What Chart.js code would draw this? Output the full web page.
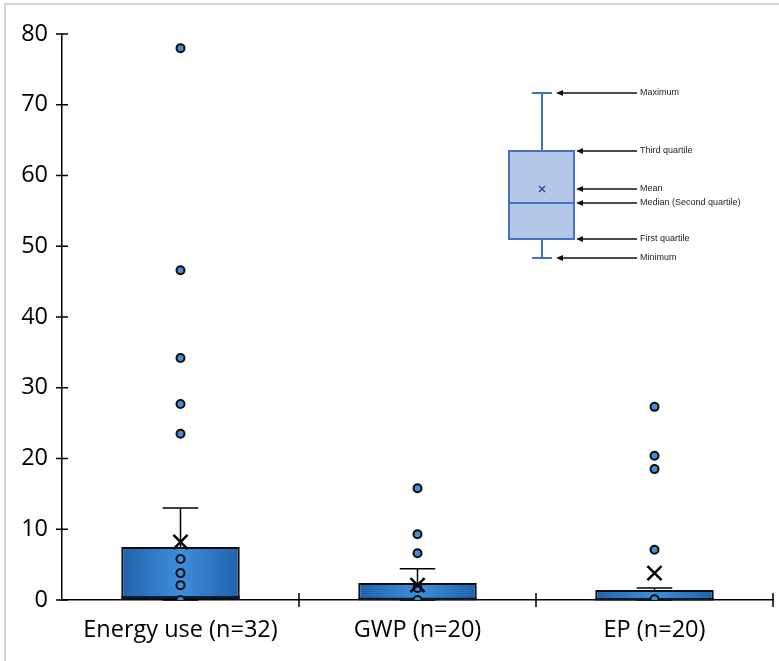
<!DOCTYPE html>
<html>
<head>
<meta charset="utf-8">
<title>Box plots</title>
<script src="https://cdn.jsdelivr.net/npm/chart.js@4.4.1/dist/chart.umd.min.js"></script>
<style>
  html, body { margin: 0; padding: 0; background: #fff; }
  #wrap { position: relative; width: 779px; height: 661px; }
</style>
</head>
<body>
<div id="wrap"><canvas id="boxChart"></canvas></div>
<script>
// categories and box statistics
const categories = ['Energy use (n=32)', 'GWP (n=20)', 'EP (n=20)'];
const q1 = [0, 0, 0];
const q3 = [7.5, 2.4, 1.4];
const medians = [0.4, 0.15, 0.1];
const whiskerLow = [0, 0, 0];
const whiskerHigh = [13.0, 4.4, 1.7];
const means = [8.2, 2.1, 3.8];

// individual points shown per category
const energyPoints = [78.0, 46.6, 34.2, 27.7, 23.5, 5.8, 3.8, 2.1, 0];
const gwpPoints = [15.8, 9.3, 6.6, 1.7, 0];
const epPoints = [27.3, 20.4, 18.5, 7.1, 0.1];

const yTicks = [0, 10, 20, 30, 40, 50, 60, 70, 80];

const pointSets = [energyPoints, gwpPoints, epPoints];
const pointData = [];
pointSets.forEach((vals, i) => vals.forEach(v => pointData.push({ x: categories[i], y: v })));
const meanData = means.map((m, i) => ({ x: categories[i], y: m }));

const FONT = '"Open Sans", "Liberation Sans", sans-serif';

function boxGradient(context) {
  const chart = context.chart;
  if (!chart.chartArea) return '#2f77c2';
  const xs = chart.scales.x;
  const cx = xs.getPixelForValue(context.dataIndex);
  const half = xs.width / categories.length * 0.25;
  const g = chart.ctx.createLinearGradient(cx - half, 0, cx + half, 0);
  g.addColorStop(0, '#2062ab');
  g.addColorStop(0.5, '#3f8edb');
  g.addColorStop(1, '#2062ab');
  return g;
}

// whiskers, caps and median lines on top of the boxes
const whiskerPlugin = {
  id: 'whiskers',
  afterDatasetDraw(chart, args) {
    if (args.index !== 0) return;
    const { ctx, scales: { x, y } } = chart;
    const step = x.width / categories.length;
    ctx.save();
    ctx.strokeStyle = '#000';
    categories.forEach((c, i) => {
      const cx = x.getPixelForValue(i);
      const capHalf = step * 0.075;
      const boxHalf = step * 0.25;
      ctx.lineWidth = 1.5;
      ctx.beginPath();
      ctx.moveTo(cx, y.getPixelForValue(q3[i]));
      ctx.lineTo(cx, y.getPixelForValue(whiskerHigh[i]));
      ctx.moveTo(cx - capHalf, y.getPixelForValue(whiskerHigh[i]));
      ctx.lineTo(cx + capHalf, y.getPixelForValue(whiskerHigh[i]));
      ctx.moveTo(cx - capHalf, y.getPixelForValue(whiskerLow[i]));
      ctx.lineTo(cx + capHalf, y.getPixelForValue(whiskerLow[i]));
      ctx.stroke();
      ctx.lineWidth = 2.5;
      ctx.strokeStyle = '#0b1a2b';
      ctx.beginPath();
      ctx.moveTo(cx - boxHalf, y.getPixelForValue(medians[i]));
      ctx.lineTo(cx + boxHalf, y.getPixelForValue(medians[i]));
      ctx.stroke();
      ctx.strokeStyle = '#000';
    });
    ctx.restore();
  }
};

// tick marks crossing both axes, page frame and the explanatory key
const decorPlugin = {
  id: 'decor',
  beforeDraw(chart) {
    const ctx = chart.ctx;
    ctx.save();
    ctx.strokeStyle = '#d4d4d4';
    ctx.lineWidth = 2;
    ctx.beginPath();
    ctx.moveTo(5, 661);
    ctx.lineTo(5, 4);
    ctx.lineTo(779, 4);
    ctx.stroke();
    ctx.restore();
  },
  afterDraw(chart) {
    const { ctx, chartArea: a, scales: { x, y } } = chart;
    ctx.save();
    ctx.strokeStyle = '#000';
    ctx.lineWidth = 1.5;
    ctx.beginPath();
    yTicks.forEach(t => {
      const py = y.getPixelForValue(t);
      ctx.moveTo(a.left - 6, py);
      ctx.lineTo(a.left + 6, py);
    });
    const step = x.width / categories.length;
    for (let i = 1; i <= categories.length; i++) {
      const px = a.left + step * i;
      ctx.moveTo(px, a.bottom - 7);
      ctx.lineTo(px, a.bottom + 7);
    }
    ctx.stroke();
    ctx.restore();
    drawKey(ctx);
  }
};

function arrow(ctx, fromX, toX, yy) {
  ctx.beginPath();
  ctx.moveTo(fromX, yy);
  ctx.lineTo(toX + 5, yy);
  ctx.stroke();
  ctx.beginPath();
  ctx.moveTo(toX, yy);
  ctx.lineTo(toX + 7, yy - 3);
  ctx.lineTo(toX + 7, yy + 3);
  ctx.closePath();
  ctx.fill();
}

function drawKey(ctx) {
  const cx = 542, left = 509, right = 574;
  const yMax = 93, yQ3 = 151, yMean = 189, yMed = 203, yQ1 = 239, yMin = 258;
  ctx.save();
  ctx.fillStyle = '#b4c7e7';
  ctx.fillRect(left, yQ3, right - left, yQ1 - yQ3);
  ctx.strokeStyle = '#4472c4';
  ctx.lineWidth = 2;
  ctx.strokeRect(left, yQ3, right - left, yQ1 - yQ3);
  ctx.beginPath();
  ctx.moveTo(left, yMed); ctx.lineTo(right, yMed);
  ctx.moveTo(cx, yQ3); ctx.lineTo(cx, yMax);
  ctx.moveTo(cx - 10, yMax); ctx.lineTo(cx + 10, yMax);
  ctx.moveTo(cx, yQ1); ctx.lineTo(cx, yMin);
  ctx.moveTo(cx - 10, yMin); ctx.lineTo(cx + 10, yMin);
  ctx.stroke();
  ctx.strokeStyle = '#2f5597';
  ctx.lineWidth = 1.6;
  ctx.beginPath();
  ctx.moveTo(cx - 3, yMean - 3); ctx.lineTo(cx + 3, yMean + 3);
  ctx.moveTo(cx + 3, yMean - 3); ctx.lineTo(cx - 3, yMean + 3);
  ctx.stroke();

  ctx.strokeStyle = '#111';
  ctx.fillStyle = '#111';
  ctx.lineWidth = 1.3;
  arrow(ctx, 637, 556, yMax);
  arrow(ctx, 637, 576, yQ3);
  arrow(ctx, 637, 576, yMean);
  arrow(ctx, 637, 576, yMed);
  arrow(ctx, 637, 576, yQ1);
  arrow(ctx, 637, 556, yMin);

  ctx.fillStyle = '#222';
  ctx.font = '9px "Liberation Sans", Arial, sans-serif';
  ctx.textBaseline = 'middle';
  ctx.fillText('Maximum', 640, yMax);
  ctx.fillText('Third quartile', 640, yQ3);
  ctx.fillText('Mean', 640, yMean);
  ctx.fillText('Median (Second quartile)', 640, yMed);
  ctx.fillText('First quartile', 640, yQ1);
  ctx.fillText('Minimum', 640, yMin);
  ctx.restore();
}

new Chart(document.getElementById('boxChart'), {
  data: {
    labels: categories,
    datasets: [
      {
        type: 'bar',
        data: categories.map((c, i) => [q1[i], q3[i]]),
        backgroundColor: boxGradient,
        borderColor: '#0d0d0d',
        borderWidth: 2,
        borderSkipped: false,
        barPercentage: 0.5,
        categoryPercentage: 1,
        order: 3
      },
      {
        type: 'scatter',
        data: pointData,
        pointStyle: 'circle',
        pointRadius: 4,
        pointBackgroundColor: '#3d91dc',
        pointBorderColor: '#0d0d0d',
        pointBorderWidth: 2,
        order: 2
      },
      {
        type: 'scatter',
        data: meanData,
        pointStyle: 'crossRot',
        pointRadius: 10,
        pointBorderColor: '#000',
        pointBorderWidth: 2.5,
        order: 1
      }
    ]
  },
  options: {
    responsive: true,
    maintainAspectRatio: false,
    animation: false,
    layout: { autoPadding: false, padding: { left: 5, top: 34, right: 6, bottom: 0 } },
    plugins: {
      legend: { display: false },
      tooltip: { enabled: false }
    },
    scales: {
      x: {
        type: 'category',
        offset: true,
        grid: { display: false, drawTicks: false },
        border: { display: true, color: '#000', width: 1.5 },
        ticks: { color: '#000', padding: 16, font: { family: FONT, size: 23.5 } },
        afterFit: s => { s.height = 61; }
      },
      y: {
        min: 0,
        max: 80,
        afterBuildTicks: s => { s.ticks = yTicks.map(v => ({ value: v })); },
        grid: { display: false, drawTicks: false },
        border: { display: true, color: '#000', width: 1.5 },
        ticks: { color: '#000', padding: 14, font: { family: FONT, size: 23.5 } },
        afterFit: s => { s.width = 57; }
      }
    }
  },
  plugins: [whiskerPlugin, decorPlugin]
});
</script>
</body>
</html>
